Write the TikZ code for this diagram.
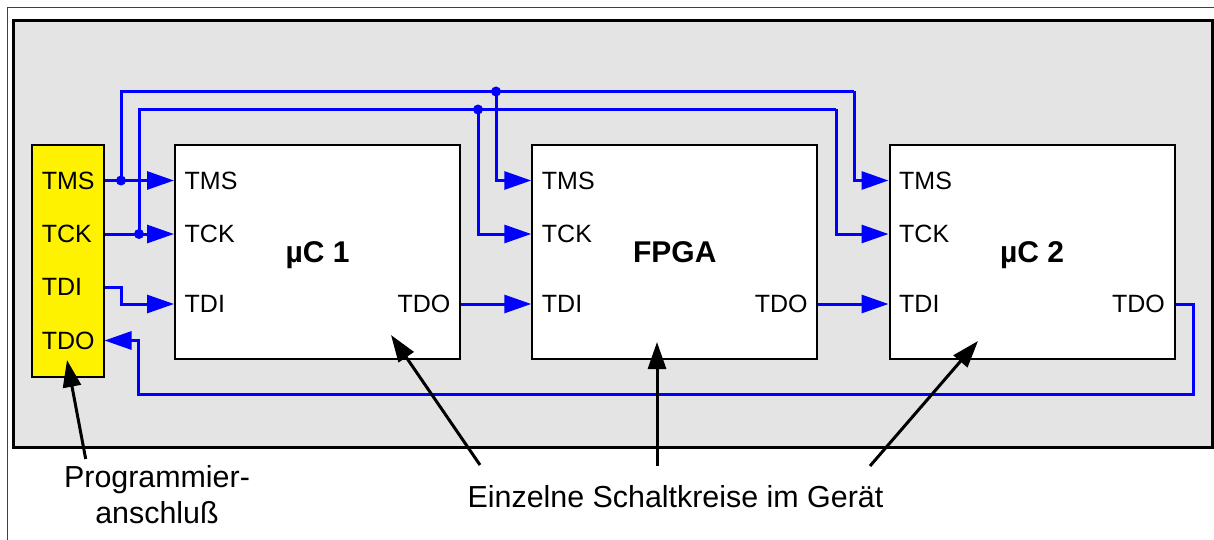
\documentclass[tikz,border=0pt]{standalone}
\usepackage{fontspec}
\setmainfont{Liberation Sans}
\usetikzlibrary{arrows.meta}
\definecolor{panelgray}{HTML}{E4E4E4}
\tikzset{
	chip/.style={draw, rectangle, inner sep=0pt, line width=2pt, minimum width=285pt, minimum height=213pt, fill=white, text height=21.5pt, text depth=0pt, font=\fontsize{30}{34}\selectfont\bfseries},
	connector/.style={draw, rectangle, inner sep=0pt, line width=2pt, minimum width=72pt, minimum height=231pt, fill=yellow},
	portin/.style={anchor=west, inner xsep=10.5pt, inner ysep=0pt},
	portout/.style={anchor=east, inner xsep=10.5pt, inner ysep=0pt},
	conport/.style={anchor=east, inner xsep=10.5pt, inner ysep=0pt, text width=52pt, align=left},
	junction/.style={circle, fill=blue, inner sep=0pt, minimum size=10pt},
	note/.style={align=center, inner sep=0pt, font=\fontsize{30.4}{36}\selectfont},
}
\begin{document}
\begin{tikzpicture}[x=1pt, y=-1pt, node distance=357.25pt, font=\fontsize{25}{30}\selectfont]
	\useasboundingbox (0,0) rectangle (1214,540);
	
	% frame and housing
	\draw[line width=1pt, black!75] (7.5,540) -- (7.5,7.5) -- (1214,7.5);
	\draw[line width=3pt, fill=panelgray] (13.5,21) rectangle (1212,447.5);
	
	\node (uc1) [chip] at (317.5,252) {µC 1};
	\node (fpga) [chip, right of=uc1] {FPGA};
	\node (uc2) [chip, right of=fpga] {µC 2};
	\node (prog) [connector] at (67.5,261) {};
	
	\coordinate (rowtms) at (0,180.5);
	\coordinate (rowtck) at (0,234);
	\coordinate (rowtdi) at (0,304);
	\coordinate (rowtdin) at (0,287);
	\coordinate (rowtdon) at (0,340.5);
	
	\node (tms0) [conport] at (prog.east |- rowtms) {TMS};
	\node (tck0) [conport] at (prog.east |- rowtck) {TCK};
	\node (tdi0) [conport] at (prog.east |- rowtdin) {TDI};
	\node (tdo0) [conport] at (prog.east |- rowtdon) {TDO};
	
	\node (tms1) [portin] at (uc1.west |- rowtms) {TMS};
	\node (tck1) [portin] at (uc1.west |- rowtck) {TCK};
	\node (tdi1) [portin] at (uc1.west |- rowtdi) {TDI};
	\node (tdo1) [portout] at (uc1.east |- rowtdi) {TDO};
	
	\node (tms2) [portin] at (fpga.west |- rowtms) {TMS};
	\node (tck2) [portin] at (fpga.west |- rowtck) {TCK};
	\node (tdi2) [portin] at (fpga.west |- rowtdi) {TDI};
	\node (tdo2) [portout] at (fpga.east |- rowtdi) {TDO};
	
	\node (tms3) [portin] at (uc2.west |- rowtms) {TMS};
	\node (tck3) [portin] at (uc2.west |- rowtck) {TCK};
	\node (tdi3) [portin] at (uc2.west |- rowtdi) {TDI};
	\node (tdo3) [portout] at (uc2.east |- rowtdi) {TDO};
	
	\node (jtms) [junction] at (121,180.5) {};
	\node (jtck) [junction] at (139,234) {};
	\node (jbustms) [junction] at (496,91.5) {};
	\node (jbustck) [junction] at (478,109.5) {};
	
	\coordinate (bustms) at (854,91.5);
	\coordinate (bustck) at (836,109.5);
	\coordinate (tdibend) at (121,295.5);
	\coordinate (retright) at (1193.5,394);
	\coordinate (retleft) at (138.5,394);
	
	\node (lblprog) [note] at (157,495) {Programmier-\\anschluß};
	\node (lblchips) [note] at (675.5,497) {Einzelne Schaltkreise im Gerät};
	
	\coordinate (tailprog) at (85.7,459);
	\coordinate (tipprog) at (67,360);
	\coordinate (tailuc1) at (480,465);
	\coordinate (tipuc1) at (391,335);
	\coordinate (tailfpga) at (657,466);
	\coordinate (tipfpga) at (657,342);
	\coordinate (tailuc2) at (870,466);
	\coordinate (tipuc2) at (978,341);
	
	\begin{scope}[blue, line width=3pt, -{Triangle[length=27pt, width=18pt]}]
		\draw (tms0.east) -- (tms1.west);
		\draw (tck0.east) -- (tck1.west);
		\draw (tdi0.east) -| (tdibend) |- (tdi1.west);
		\draw (tdo1.east) -- (tdi2.west);
		\draw (tdo2.east) -- (tdi3.west);
		\draw (jbustms.center) |- (tms2.west);
		\draw (jbustck.center) |- (tck2.west);
		\draw (bustms) |- (tms3.west);
		\draw (bustck) |- (tck3.west);
		\draw (tdo3.east) -| (retright) -- (retleft) |- (tdo0.east);
	\end{scope}
	
	\begin{scope}[blue, line width=3pt]
		\draw (jtms.center) |- (bustms);
		\draw (jtck.center) |- (bustck);
	\end{scope}
	
	\begin{scope}[black, line width=3pt, -{Triangle[length=27pt, width=18pt]}]
		\draw (tailprog) -- (tipprog);
		\draw (tailuc1) -- (tipuc1);
		\draw (tailfpga) -- (tipfpga);
		\draw (tailuc2) -- (tipuc2);
	\end{scope}
	
\end{tikzpicture}
\end{document}
